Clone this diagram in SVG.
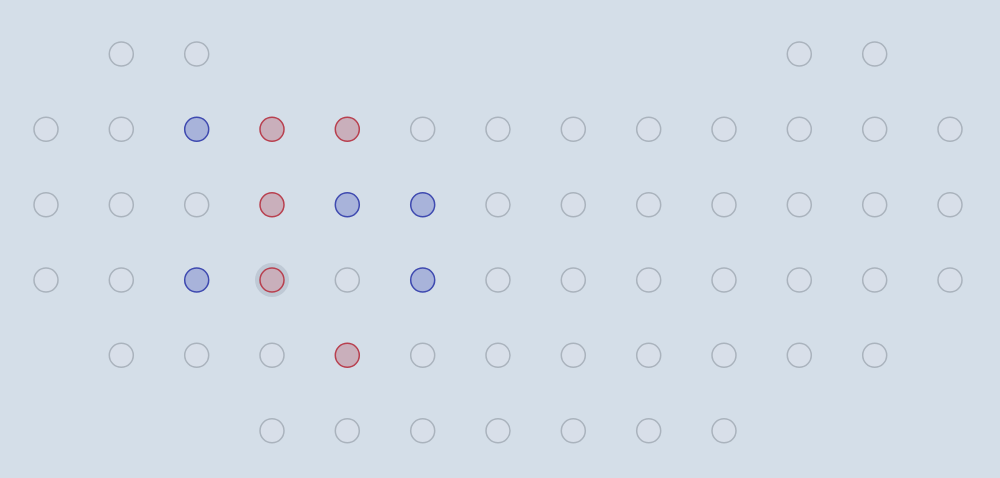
<svg xmlns="http://www.w3.org/2000/svg" width="1000" height="478" viewBox="0 0 1000 478">
<style>
.e{fill:#d8dfe9;stroke:#aab3bd;stroke-width:1.5}
.b{fill:#a8b3da;stroke:#3f4ab0;stroke-width:1.5}
.r{fill:#c9afbb;stroke:#b8404f;stroke-width:1.5}
.h{fill:#bfc9d5}
</style>
<rect width="1000" height="478" fill="#d4dee8"/>
<g id="nodes">
<g id="r0">
<circle class="e" cx="121.3" cy="54" r="12"/><circle class="e" cx="196.7" cy="54" r="12"/><circle class="e" cx="799.3" cy="54" r="12"/><circle class="e" cx="874.7" cy="54" r="12"/>
</g>
<g id="r1">
<circle class="e" cx="46" cy="129.3" r="12"/><circle class="e" cx="121.3" cy="129.3" r="12"/><circle class="b" cx="196.7" cy="129.3" r="12"/><circle class="r" cx="272" cy="129.3" r="12"/><circle class="r" cx="347.3" cy="129.3" r="12"/><circle class="e" cx="422.7" cy="129.3" r="12"/><circle class="e" cx="498" cy="129.3" r="12"/><circle class="e" cx="573.3" cy="129.3" r="12"/><circle class="e" cx="648.7" cy="129.3" r="12"/><circle class="e" cx="724" cy="129.3" r="12"/><circle class="e" cx="799.3" cy="129.3" r="12"/><circle class="e" cx="874.7" cy="129.3" r="12"/><circle class="e" cx="950" cy="129.3" r="12"/>
</g>
<g id="r2">
<circle class="e" cx="46" cy="204.7" r="12"/><circle class="e" cx="121.3" cy="204.7" r="12"/><circle class="e" cx="196.7" cy="204.7" r="12"/><circle class="r" cx="272" cy="204.7" r="12"/><circle class="b" cx="347.3" cy="204.7" r="12"/><circle class="b" cx="422.7" cy="204.7" r="12"/><circle class="e" cx="498" cy="204.7" r="12"/><circle class="e" cx="573.3" cy="204.7" r="12"/><circle class="e" cx="648.7" cy="204.7" r="12"/><circle class="e" cx="724" cy="204.7" r="12"/><circle class="e" cx="799.3" cy="204.7" r="12"/><circle class="e" cx="874.7" cy="204.7" r="12"/><circle class="e" cx="950" cy="204.7" r="12"/>
</g>
<g id="r3">
<circle class="e" cx="46" cy="280" r="12"/><circle class="e" cx="121.3" cy="280" r="12"/><circle class="b" cx="196.7" cy="280" r="12"/><circle class="h" cx="272" cy="280" r="17"/><circle class="r" cx="272" cy="280" r="12"/><circle class="e" cx="347.3" cy="280" r="12"/><circle class="b" cx="422.7" cy="280" r="12"/><circle class="e" cx="498" cy="280" r="12"/><circle class="e" cx="573.3" cy="280" r="12"/><circle class="e" cx="648.7" cy="280" r="12"/><circle class="e" cx="724" cy="280" r="12"/><circle class="e" cx="799.3" cy="280" r="12"/><circle class="e" cx="874.7" cy="280" r="12"/><circle class="e" cx="950" cy="280" r="12"/>
</g>
<g id="r4">
<circle class="e" cx="121.3" cy="355.3" r="12"/><circle class="e" cx="196.7" cy="355.3" r="12"/><circle class="e" cx="272" cy="355.3" r="12"/><circle class="r" cx="347.3" cy="355.3" r="12"/><circle class="e" cx="422.7" cy="355.3" r="12"/><circle class="e" cx="498" cy="355.3" r="12"/><circle class="e" cx="573.3" cy="355.3" r="12"/><circle class="e" cx="648.7" cy="355.3" r="12"/><circle class="e" cx="724" cy="355.3" r="12"/><circle class="e" cx="799.3" cy="355.3" r="12"/><circle class="e" cx="874.7" cy="355.3" r="12"/>
</g>
<g id="r5">
<circle class="e" cx="272" cy="430.7" r="12"/><circle class="e" cx="347.3" cy="430.7" r="12"/><circle class="e" cx="422.7" cy="430.7" r="12"/><circle class="e" cx="498" cy="430.7" r="12"/><circle class="e" cx="573.3" cy="430.7" r="12"/><circle class="e" cx="648.7" cy="430.7" r="12"/><circle class="e" cx="724" cy="430.7" r="12"/>
</g>
</g>
<g id="connectors"/>
</svg>
